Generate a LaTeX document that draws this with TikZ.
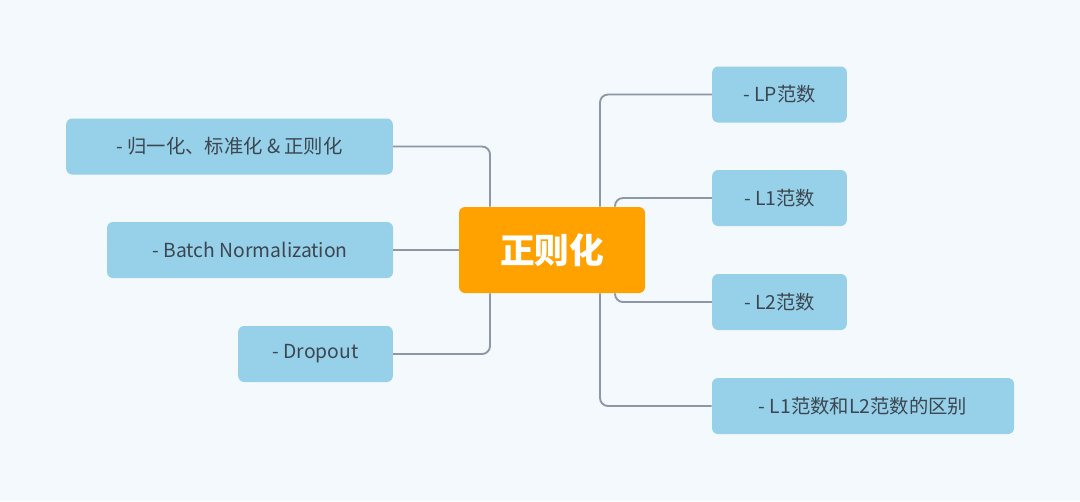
\documentclass[tikz,border=0pt]{standalone}
\usepackage{fontspec}
\setmainfont{Noto Sans CJK SC}
\definecolor{bgcol}{HTML}{F4F9FD}
\definecolor{leafcol}{HTML}{96D1E9}
\definecolor{rootcol}{HTML}{FFA200}
\definecolor{txtcol}{HTML}{3C4650}
\definecolor{linecol}{HTML}{8D97A5}
\tikzset{
  leaf/.style={fill=leafcol, rounded corners=4.5pt, text=txtcol, font=\fontsize{14.5}{16}\selectfont, minimum height=42pt, inner sep=0pt, anchor=center},
  root/.style={fill=rootcol, rounded corners=4.5pt, text=white, font=\fontsize{26}{30}\selectfont\bfseries, minimum width=139.5pt, minimum height=64.5pt},
  link/.style={draw=linecol, line width=1.4pt, rounded corners=6pt}
}
\begin{document}
\begin{tikzpicture}[x=0.75pt,y=-0.75pt]
\fill[bgcol] (0,0) rectangle (1080,501);
\useasboundingbox (0,0) rectangle (1080,501);
\node[root] (c) at (552,250) {正则化};
% left side
\node[leaf, minimum width=245pt] (l1) at (229.5,146.5) {- 归一化、标准化 \& 正则化};
\node[leaf, minimum width=214.5pt] (l2) at (250,250) {- Batch Normalization};
\node[leaf, minimum width=116pt] (l3) at (315.5,354) {- Dropout};
% right side
\node[leaf, minimum width=101pt] (r1) at (779.5,94.5) {- LP范数};
\node[leaf, minimum width=101pt] (r2) at (779.5,198) {- L1范数};
\node[leaf, minimum width=101pt] (r3) at (779.5,302) {- L2范数};
\node[leaf, minimum width=226.5pt] (r4) at (863,406) {- L1范数和L2范数的区别};
% connectors
\draw[link] (l1.east) -| (c.north -| 490,0);
\draw[link] (l2.east) -- (c.west);
\draw[link] (l3.east) -| (c.south -| 490,0);
\draw[link] (r1.west) -| (c.north -| 600,0);
\draw[link] (r2.west) -| (c.north -| 615,0);
\draw[link] (r3.west) -| (c.south -| 615,0);
\draw[link] (r4.west) -| (c.south -| 600,0);
\end{tikzpicture}
\end{document}
